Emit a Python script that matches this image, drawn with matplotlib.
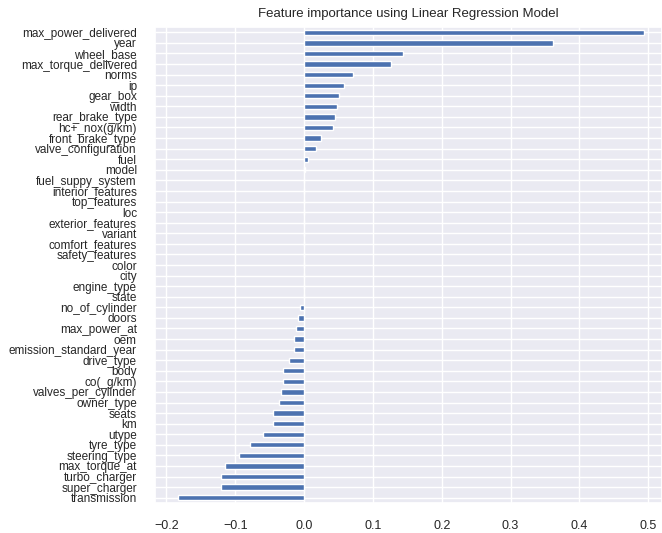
import matplotlib
matplotlib.use("Agg")
import matplotlib.pyplot as plt
import seaborn as sns
import pandas as pd

# coefficients, top to bottom
features = [
    "max_power_delivered", "year", "wheel_base", "max_torque_delivered", "norms",
    "ip", "gear_box", "width", "rear_brake_type", "hc+_nox(g/km)",
    "front_brake_type", "valve_configuration", "fuel", "model", "fuel_suppy_system",
    "interior_features", "top_features", "loc", "exterior_features", "variant",
    "comfort_features", "safety_features", "color", "city", "engine_type",
    "state", "no_of_cylinder", "doors", "max_power_at", "oem",
    "emission_standard_year", "drive_type", "body", "co(_g/km)", "valves_per_cylinder",
    "owner_type", "seats", "km", "utype", "tyre_type",
    "steering_type", "max_torque_at", "turbo_charger", "super_charger", "transmission",
]
coefs = [
    0.494, 0.3615, 0.1444, 0.127, 0.0717,
    0.0586, 0.050, 0.0485, 0.0455, 0.0417,
    0.0242, 0.0174, 0.0058, 0.001, 0.0,
    0.0, 0.0, 0.0, 0.0, 0.0,
    0.0, 0.0, 0.0, 0.0, 0.0,
    0.0, -0.006, -0.009, -0.012, -0.015,
    -0.015, -0.022, -0.030, -0.031, -0.033,
    -0.036, -0.045, -0.045, -0.060, -0.079,
    -0.094, -0.115, -0.121, -0.121, -0.1827,
]

sns.set_theme(style="darkgrid")
plt.rcParams["font.family"] = ["Liberation Sans", "DejaVu Sans"]

importance = pd.Series(coefs, index=features)[::-1]

fig = plt.figure(figsize=(6.62, 5.33), dpi=100)
ax = fig.add_axes([155 / 662, 30 / 533, 507 / 662, 476 / 533])
importance.plot(kind="barh", ax=ax, color="#4C72B0", width=0.5)
ax.set_xlim(-0.2166, 0.520)
ax.set_title("Feature importance using Linear Regression Model", fontsize=9.5, color="#262626", pad=7)
ax.tick_params(axis="y", labelsize=8.5, pad=7)
ax.tick_params(axis="x", labelsize=9, pad=6)
ax.set_xticks([-0.2, -0.1, 0.0, 0.1, 0.2, 0.3, 0.4, 0.5])

fig.savefig("out.png", dpi=100)
